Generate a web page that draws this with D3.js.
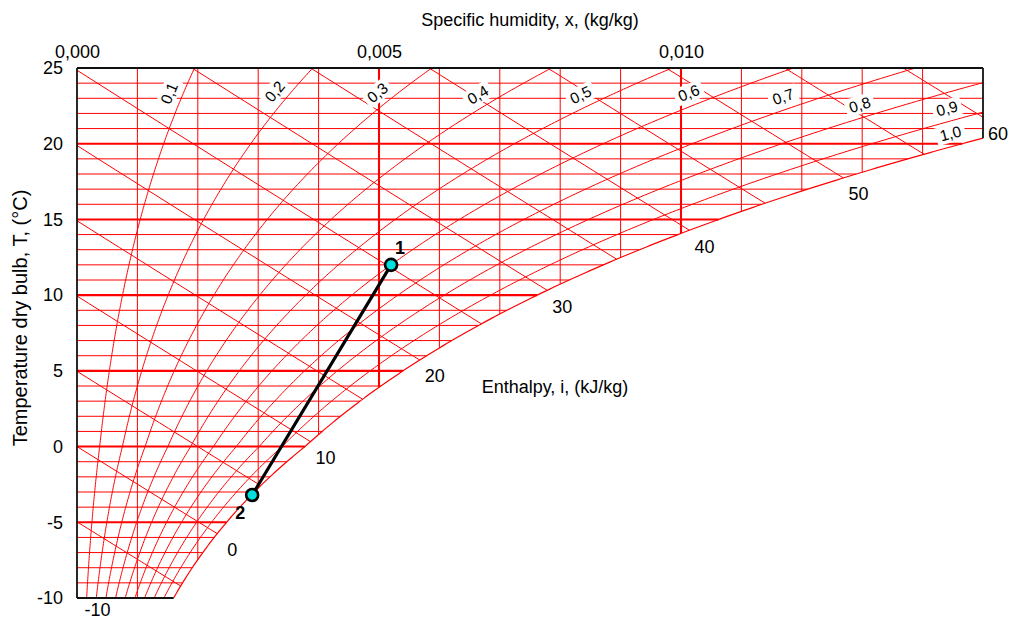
<!DOCTYPE html>
<html>
<head>
<meta charset="utf-8">
<script src="https://cdn.jsdelivr.net/npm/d3@7"></script>
<style>
  html, body { margin: 0; padding: 0; background: #fff; }
  svg { display: block; font-family: "Liberation Sans", Arial, sans-serif; }
</style>
</head>
<body>
<svg id="chart" width="1009" height="620"></svg>
<script>
// Psychrometric chart: dry-bulb temperature vs. specific humidity at sea-level pressure
const P_ATM = 101325;

// axis ticks
const tempTicks = [-10, -5, 0, 5, 10, 15, 20, 25];
const humidityTicks = [0.000, 0.005, 0.010];

// relative humidity curves and the temperature at which each label sits
const rhLevels = [0.1, 0.2, 0.3, 0.4, 0.5, 0.6, 0.7, 0.8, 0.9, 1.0];
const rhLabelTemps = [23.0, 22.9, 22.7, 22.5, 22.45, 22.55, 22.3, 21.75, 21.5, 19.85];

// enthalpy lines (kJ/kg) and the labelled ones
const enthalpyLevels = [-10, -5, 0, 5, 10, 15, 20, 25, 30, 35, 40, 45, 50, 55, 60];
const enthalpyLabels = [-10, 0, 10, 20, 30, 40, 50, 60];

// process states
const stateNames = ["1", "2"];
const stateTemps = [12.0, -3.2];
const stateHumidity = [0.0052, 0.0029];

const X_MAX = 0.015, T_MIN = -10, T_MAX = 25;

const svg = d3.select("#chart");
const x = d3.scaleLinear().domain([0, X_MAX]).range([77, 983]);
const y = d3.scaleLinear().domain([T_MIN, T_MAX]).range([598, 68]);

// saturation vapour pressure (Magnus), over ice below 0 °C
function psat(T) {
  return T >= 0 ? 611.2 * Math.exp(17.62 * T / (243.12 + T))
                : 611.2 * Math.exp(22.46 * T / (272.62 + T));
}
function humidity(T, phi) { const p = phi * psat(T); return 0.622 * p / (P_ATM - p); }
function xOnEnthalpy(i, T) { return (i - 1.006 * T) / (2501 + 1.86 * T); }
function bisect(f, a, b) {
  let fa = f(a);
  for (let k = 0; k < 60; k++) {
    const m = (a + b) / 2, fm = f(m);
    if ((fm < 0) === (fa < 0)) { a = m; fa = fm; } else { b = m; }
  }
  return (a + b) / 2;
}
// temperature at which the saturation curve reaches a given humidity
function tSat(xv) { return bisect(T => humidity(T, 1) - xv, -40, 60); }

const line = d3.line().x(d => x(d[0])).y(d => y(d[1]));
const RED = "#ff0000";
const THIN = 1, THICK = 2.1;
const grid = svg.append("g");

// constant-temperature lines
d3.range(T_MIN + 1, T_MAX, 1).forEach(T => {
  const xe = Math.min(humidity(T, 1), X_MAX);
  grid.append("path")
    .attr("d", line([[0, T], [xe, T]]))
    .attr("stroke", RED).attr("fill", "none")
    .attr("stroke-width", T % 5 === 0 ? THICK : THIN);
});

// constant-humidity lines
d3.range(1, 15).map(k => k * 0.001).forEach((xv, k) => {
  const te = Math.max(tSat(xv), T_MIN);
  const major = (k + 1) % 5 === 0;
  grid.append("path")
    .attr("d", line([[xv, T_MAX], [xv, te]]))
    .attr("stroke", RED).attr("fill", "none")
    .attr("stroke-width", major ? THICK : THIN);
});

// enthalpy lines: find where each one leaves the chart area
const tSatEdge = tSat(X_MAX);
function enthalpyEnd(i) {
  let tEnd = T_MIN;
  const f = T => xOnEnthalpy(i, T) - humidity(T, 1);
  if (f(T_MIN) > 0) tEnd = Math.max(tEnd, bisect(f, T_MIN, T_MAX));
  const tRight = (i - X_MAX * 2501) / (1.006 + X_MAX * 1.86);
  tEnd = Math.max(tEnd, tRight);
  return tEnd;
}
enthalpyLevels.forEach(i => {
  const tStart = Math.min(T_MAX, i / 1.006);
  const tEnd = enthalpyEnd(i);
  if (tStart <= tEnd) return;
  const pts = d3.range(0, 21).map(k => {
    const T = tStart + (tEnd - tStart) * k / 20;
    return [Math.max(0, xOnEnthalpy(i, T)), T];
  });
  grid.append("path")
    .attr("d", line(pts))
    .attr("stroke", RED).attr("fill", "none")
    .attr("stroke-width", THIN);
});

// relative-humidity curves
function rhCurve(phi) {
  const pts = [];
  for (let T = T_MIN; T <= T_MAX + 1e-9; T += 0.1) {
    const xv = humidity(T, phi);
    if (xv > X_MAX) {
      const tc = bisect(t => humidity(t, phi) - X_MAX, T - 0.1, T);
      pts.push([X_MAX, tc]);
      break;
    }
    pts.push([xv, T]);
  }
  return pts;
}
rhLevels.forEach(phi => {
  grid.append("path")
    .attr("d", line(rhCurve(phi)))
    .attr("stroke", RED).attr("fill", "none")
    .attr("stroke-width", phi === 1 ? 1.2 : THIN);
});

// chart frame
const frame = [
  [[0, T_MIN], [0, T_MAX]],
  [[0, T_MAX], [X_MAX, T_MAX]],
  [[X_MAX, T_MAX], [X_MAX, tSatEdge]],
  [[0, T_MIN], [humidity(T_MIN, 1), T_MIN]]
];
frame.forEach(seg => {
  svg.append("path").attr("d", line(seg))
    .attr("stroke", "#111").attr("stroke-width", 1.8).attr("fill", "none");
});

// relative-humidity labels, set just above each curve and turned along it
const rhLab = svg.append("g");
rhLevels.forEach((phi, k) => {
  const T = rhLabelTemps[k];
  const px = x(humidity(T, phi)), py = y(T);
  const dx = x(humidity(T + 0.05, phi)) - x(humidity(T - 0.05, phi));
  const dy = y(T + 0.05) - y(T - 0.05);
  const len = Math.hypot(dx, dy);
  const nx = dy / len, ny = -dx / len;
  const cx = px + 13 * nx, cy = py + 13 * ny;
  const ang = Math.atan2(dy, dx) * 180 / Math.PI;
  const g = rhLab.append("g").attr("transform", `translate(${cx},${cy}) rotate(${ang})`);
  const label = phi.toFixed(1).replace(".", ",");
  const t = g.append("text").text(label)
    .attr("text-anchor", "middle").attr("dy", "0.35em")
    .attr("font-size", 15.5).attr("fill", "#000");
  const w = t.node().getComputedTextLength();
  g.insert("rect", "text")
    .attr("x", -w / 2 - 4).attr("y", -9).attr("width", w + 8).attr("height", 18)
    .attr("fill", "#fff");
});

// enthalpy labels below the lower end of each line
enthalpyLabels.forEach(i => {
  const tEnd = enthalpyEnd(i);
  const xe = Math.max(0, xOnEnthalpy(i, tEnd));
  const ly = Math.min(y(tEnd) + 16, 610);
  const lx = x(xe) + (ly < y(tEnd) + 16 ? 19 : 15);
  svg.append("text")
    .attr("x", lx).attr("y", ly)
    .attr("dy", "0.35em").attr("text-anchor", "middle")
    .attr("font-size", 18).attr("fill", "#000")
    .text(String(i));
});

svg.append("text")
  .attr("x", 555).attr("y", 387).attr("dy", "0.35em").attr("text-anchor", "middle")
  .attr("font-size", 18).attr("fill", "#000")
  .text("Enthalpy, i, (kJ/kg)");

// axes
const topAxis = svg.append("g").attr("transform", "translate(0,68)")
  .call(d3.axisTop(x).tickValues(humidityTicks).tickSize(0).tickPadding(10)
    .tickFormat(d => d.toFixed(3).replace(".", ",")));
const leftAxis = svg.append("g").attr("transform", "translate(77,0)")
  .call(d3.axisLeft(y).tickValues(tempTicks).tickSize(0).tickPadding(14)
    .tickFormat(d => String(d)));
[topAxis, leftAxis].forEach(a => {
  a.select(".domain").remove();
  a.selectAll("text").attr("font-size", 18).attr("fill", "#000")
    .attr("font-family", "Liberation Sans, Arial, sans-serif");
});

svg.append("text")
  .attr("x", 530).attr("y", 26).attr("text-anchor", "middle")
  .attr("font-size", 18).attr("fill", "#000")
  .text("Specific humidity, x, (kg/kg)");
svg.append("text")
  .attr("transform", "translate(27,318) rotate(-90)").attr("text-anchor", "middle")
  .attr("font-size", 20).attr("fill", "#000")
  .text("Temperature dry bulb, T, (°C)");

// process line and state points
const states = stateNames.map((n, k) => ({ name: n, T: stateTemps[k], xv: stateHumidity[k] }));
svg.append("path")
  .attr("d", line(states.map(s => [s.xv, s.T])))
  .attr("stroke", "#000").attr("stroke-width", 3.2).attr("fill", "none");
svg.selectAll("circle.state").data(states).join("circle")
  .attr("class", "state")
  .attr("cx", d => x(d.xv)).attr("cy", d => y(d.T)).attr("r", 6)
  .attr("fill", "#00dede").attr("stroke", "#000").attr("stroke-width", 2.6);
const labelShift = { "1": [9, -17], "2": [-12, 18] };
svg.selectAll("text.state").data(states).join("text")
  .attr("class", "state")
  .attr("x", d => x(d.xv) + labelShift[d.name][0])
  .attr("y", d => y(d.T) + labelShift[d.name][1])
  .attr("dy", "0.35em").attr("text-anchor", "middle")
  .attr("font-size", 18).attr("font-weight", "bold").attr("fill", "#000")
  .text(d => d.name);
</script>
</body>
</html>
